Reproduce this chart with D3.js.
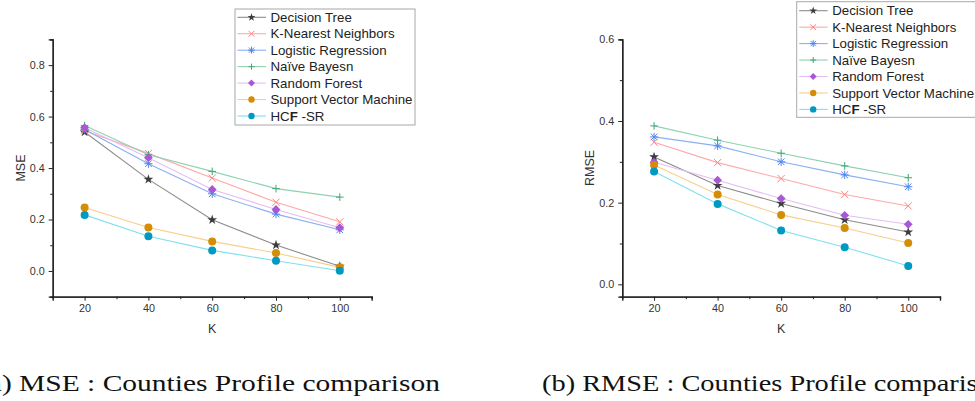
<!DOCTYPE html>
<html><head><meta charset="utf-8">
<script src="https://cdn.jsdelivr.net/npm/d3@7"></script>
<style>
body{margin:0;background:#fff;}
svg{display:block;}
</style></head>
<body>
<svg id="c" width="975" height="401"></svg>
<script>
// ---------- DATA ----------
const kValues = [20, 40, 60, 80, 100];
const seriesNames = ["Decision Tree","K-Nearest Neighbors","Logistic Regression","Naïve Bayesn","Random Forest","Support Vector Machine","HCF -SR"];

const mseDecisionTree = [0.540, 0.356, 0.199, 0.101, 0.018];
const mseKNN          = [0.545, 0.457, 0.361, 0.267, 0.191];
const mseLogistic     = [0.550, 0.417, 0.300, 0.221, 0.160];
const mseNaiveBayes   = [0.565, 0.452, 0.387, 0.320, 0.287];
const mseRandomForest = [0.557, 0.440, 0.317, 0.239, 0.168];
const mseSVM          = [0.247, 0.169, 0.115, 0.070, 0.014];
const mseHCFSR        = [0.218, 0.135, 0.080, 0.040, 0.001];

const rmseDecisionTree = [0.312, 0.242, 0.198, 0.158, 0.128];
const rmseKNN          = [0.348, 0.298, 0.259, 0.220, 0.192];
const rmseLogistic     = [0.361, 0.339, 0.300, 0.268, 0.239];
const rmseNaiveBayes   = [0.388, 0.353, 0.321, 0.290, 0.261];
const rmseRandomForest = [0.299, 0.255, 0.210, 0.169, 0.147];
const rmseSVM          = [0.292, 0.220, 0.170, 0.138, 0.101];
const rmseHCFSR        = [0.276, 0.197, 0.132, 0.091, 0.045];

const mseTicks  = [0.0, 0.2, 0.4, 0.6, 0.8];
const rmseTicks = [0.0, 0.2, 0.4, 0.6];
const kTicks    = [20, 40, 60, 80, 100];
const captionA = "(a) MSE : Counties Profile comparison";
const captionB = "(b) RMSE : Counties Profile comparison";

// ---------- STYLES ----------
const styles = [
  {marker:"star",    mcol:"#3c3c3c", lcol:"#8c8c8c"},
  {marker:"x",       mcol:"#ff8080", lcol:"#ffa8a8"},
  {marker:"ast",     mcol:"#4f86f0", lcol:"#8ab0f2"},
  {marker:"plus",    mcol:"#3fa774", lcol:"#8fd1b0"},
  {marker:"diamond", mcol:"#a957d8", lcol:"#e6bdf3"},
  {marker:"circle",  mcol:"#d48d06", lcol:"#f7cf8c"},
  {marker:"circle",  mcol:"#0099c2", lcol:"#7fe0ef"}
];

const svg = d3.select("#c");
const FONT = "'Liberation Sans', Arial, sans-serif";

function drawMarker(g, type, x, y, col, k){
  k = k || 1;
  if(type==="star"){
    g.append("path").attr("d", d3.symbol(d3.symbolStar, 30*k*k)())
      .attr("transform",`translate(${x},${y})`).attr("fill",col);
  } else if(type==="diamond"){
    const s=4.4*k;
    g.append("path").attr("d",`M${x},${y-s}L${x+s},${y}L${x},${y+s}L${x-s},${y}Z`).attr("fill",col);
  } else if(type==="circle"){
    g.append("circle").attr("cx",x).attr("cy",y).attr("r",4*k).attr("fill",col);
  } else if(type==="x"){
    const s=3.6*k;
    g.append("path").attr("d",`M${x-s},${y-s}L${x+s},${y+s}M${x-s},${y+s}L${x+s},${y-s}`)
      .attr("stroke",col).attr("stroke-width",1).attr("fill","none");
  } else if(type==="ast"){
    const s=3.3*k;
    g.append("path").attr("d",`M${x-s},${y-s}L${x+s},${y+s}M${x-s},${y+s}L${x+s},${y-s}M${x},${y-s-0.8}L${x},${y+s+0.8}M${x-s-0.8},${y}L${x+s+0.8},${y}`)
      .attr("stroke",col).attr("stroke-width",1).attr("fill","none");
  } else if(type==="plus"){
    const s=3.8*k;
    g.append("path").attr("d",`M${x-s},${y}L${x+s},${y}M${x},${y-s}L${x},${y+s}`)
      .attr("stroke",col).attr("stroke-width",1).attr("fill","none");
  }
}

function panel(opts){
  const g = svg.append("g");
  const x = d3.scaleLinear().domain([10,110]).range(opts.xr);
  const y = d3.scaleLinear().domain(opts.yd).range(opts.yr);

  g.append("g").attr("transform",`translate(0,${opts.yr[0]})`)
    .call(d3.axisBottom(x).tickValues(kTicks).tickSize(4).tickPadding(4).tickFormat(d3.format("d")));
  g.append("g").attr("transform",`translate(0,${opts.yr[0]})`)
    .call(d3.axisBottom(x).tickValues([30,50,70,90,110]).tickSize(2.5).tickFormat(""));
  g.append("g").attr("transform",`translate(${opts.xr[0]},0)`)
    .call(d3.axisLeft(y).tickValues(opts.ticks).tickSize(4).tickPadding(4).tickFormat(d3.format(".1f")));
  g.append("g").attr("transform",`translate(${opts.xr[0]},0)`)
    .call(d3.axisLeft(y).tickValues(opts.minor).tickSize(2.5).tickFormat(""));
  g.selectAll(".domain").attr("stroke","#222").attr("stroke-width",1.3);
  g.selectAll(".tick line").attr("stroke","#222").attr("stroke-width",1);
  g.selectAll(".tick text").attr("font-family",FONT).attr("font-size",10.8).attr("fill","#333");

  g.append("text").attr("x",x(60)).attr("y",333)
    .attr("text-anchor","middle").attr("font-family",FONT).attr("font-size",12.5).attr("fill","#333").text("K");
  g.append("text").attr("transform",`translate(${opts.ytx},168) rotate(-90)`)
    .attr("text-anchor","middle").attr("font-family",FONT).attr("font-size",12.5).attr("fill","#333").text(opts.ytitle);

  const line = d3.line().x((d,i)=>x(kValues[i])).y(d=>y(d));
  opts.series.forEach((s,i)=>{
    g.append("path").attr("d",line(s)).attr("fill","none")
      .attr("stroke",styles[i].lcol).attr("stroke-width",1.1);
  });
  opts.series.forEach((s,i)=>{
    const mg = g.append("g");
    s.forEach((v,j)=>drawMarker(mg, styles[i].marker, x(kValues[j]), y(v), styles[i].mcol));
  });

  const L = opts.legend;
  g.append("rect").attr("x",L.x).attr("y",L.y).attr("width",L.w).attr("height",L.h)
    .attr("fill","#fff").attr("stroke","#a8a8a8").attr("stroke-width",1);
  seriesNames.forEach((n,i)=>{
    const yy = L.row0 + i*16.45;
    g.append("line").attr("x1",L.x+2.5).attr("x2",L.x+31).attr("y1",yy).attr("y2",yy)
      .attr("stroke",styles[i].lcol).attr("stroke-width",1.1);
    drawMarker(g, styles[i].marker, L.x+16.5, yy, styles[i].mcol, 0.8);
    const t = g.append("text").attr("x",L.x+35.5).attr("y",yy+4.7)
      .attr("font-family",FONT).attr("font-size",13.3).attr("fill","#222");
    if(n==="HCF -SR"){
      t.append("tspan").text("HC");
      t.append("tspan").attr("font-weight","bold").text("F");
      t.append("tspan").text(" -SR");
    } else t.text(n);
  });
}

panel({
  xr:[52.7,371.7], yd:[-0.1,0.9], yr:[296.7,39.4],
  ticks: mseTicks, minor:[-0.1,0.1,0.3,0.5,0.7,0.9],
  ytitle:"MSE", ytx:25,
  series:[mseDecisionTree,mseKNN,mseLogistic,mseNaiveBayes,mseRandomForest,mseSVM,mseHCFSR],
  legend:{x:235,y:9,w:180,h:116,row0:17.3}
});
panel({
  xr:[622.3,940], yd:[-0.0303,0.6], yr:[296.7,39.3],
  ticks: rmseTicks, minor:[0.1,0.3,0.5],
  ytitle:"RMSE", ytx:594,
  series:[rmseDecisionTree,rmseKNN,rmseLogistic,rmseNaiveBayes,rmseRandomForest,rmseSVM,rmseHCFSR],
  legend:{x:796.7,y:1.7,w:182,h:115.6,row0:10.7}
});

// captions (Computer Modern look approximated)
const CF = "'Liberation Serif','Times New Roman',serif";
svg.append("text").attr("x",-21).attr("y",391).attr("font-family",CF).attr("font-size",22.5).attr("fill","#111")
  .attr("textLength",461).attr("lengthAdjust","spacingAndGlyphs").text(captionA);
svg.append("text").attr("x",542).attr("y",391).attr("font-family",CF).attr("font-size",22.5).attr("fill","#111")
  .attr("textLength",464).attr("lengthAdjust","spacingAndGlyphs").text(captionB);
</script>
</body></html>
